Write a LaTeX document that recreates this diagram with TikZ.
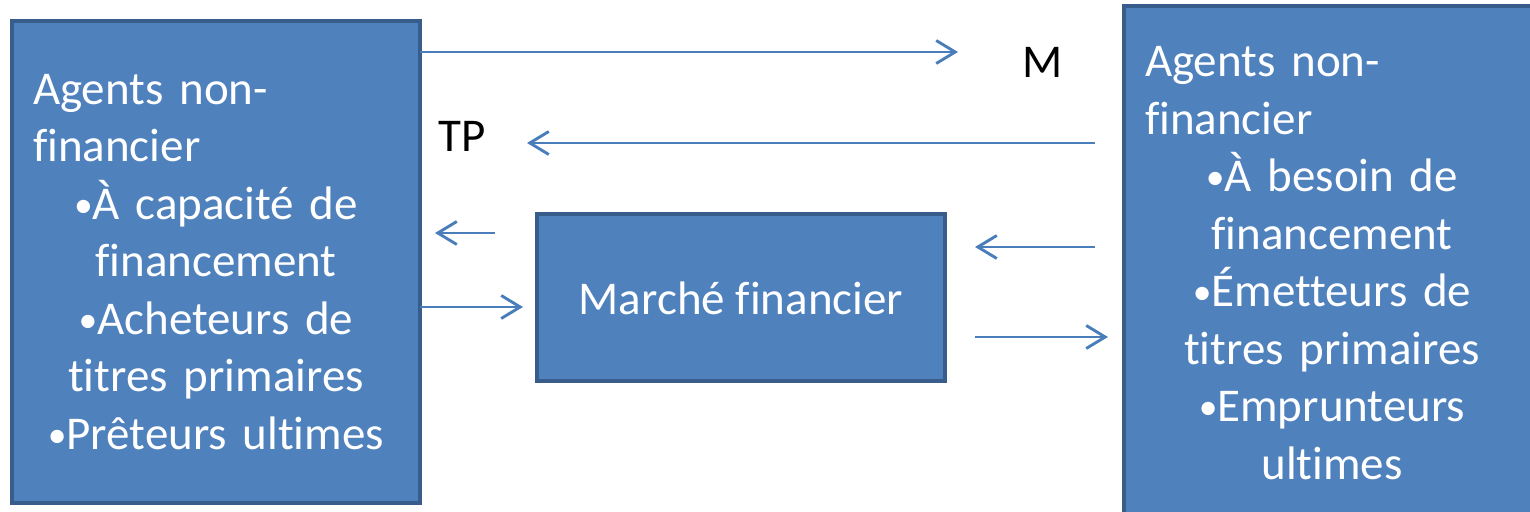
\documentclass[tikz,border=0pt]{standalone}
\usepackage{fontspec}
\setmainfont{Carlito}[Ligatures=NoCommon]
\usepackage{tikz}
\usetikzlibrary{positioning}
\usetikzlibrary{arrows.meta}
\usepackage{xcolor}
\definecolor{boxfill}{HTML}{4F81BD}
\definecolor{boxline}{HTML}{385D8A}
\definecolor{flowline}{HTML}{4A7EBB}
\newcommand{\blt}{\raisebox{0.05em}{\scalebox{0.8}{•}}}

\begin{document}
\begin{tikzpicture}[x=0.5pt, y=-0.5pt, ->, >={Straight Barb[length=9.5pt, width=11.5pt]},
    agent/.style={draw=boxline, fill=boxfill, line width=2pt, text=white, inner sep=0pt,
        align=center, font=\fontsize{23.5}{28.75}\selectfont},
    flow/.style={draw=flowline, line width=1.45pt},
    lbl/.style={inner sep=0pt, anchor=base, font=\fontsize{23.5}{28.75}\selectfont}]
    \clip (0,0) rectangle (1530,512);
    \node[agent, minimum width=204pt, minimum height=241pt, text width=183pt] (lender) at (216,262)
        {\makebox[\linewidth][l]{Agents non-}\\ \makebox[\linewidth][l]{financier}\\
         \blt À capacité de\\ financement\\ \blt Acheteurs de\\ titres primaires\\ \blt Prêteurs ultimes};
    \node[agent, minimum width=208pt, minimum height=257pt, text width=187pt] (borrower) at (1332,263)
        {\makebox[\linewidth][l]{Agents non-}\\ \makebox[\linewidth][l]{financier}\\
         \blt À besoin de\\ financement\\ \blt Émetteurs de\\ titres primaires\\ \blt Emprunteurs\\ ultimes};
    \node[agent, minimum width=204pt, minimum height=83.5pt] (market) at (741,298) {Marché financier};
    \node[lbl] (m) at (1043,78) {M};
    \node[lbl] (tp) at (462,152) {TP};
    \coordinate (m0) at (420,52);
    \coordinate (m1) at (958,52);
    \coordinate (tp0) at (1095,143);
    \coordinate (tp1) at (527,143);
    \coordinate (ml0) at (495,233);
    \coordinate (ml1) at (435,233);
    \coordinate (lm0) at (420,307);
    \coordinate (lm1) at (523,307);
    \coordinate (bm0) at (1095,247);
    \coordinate (bm1) at (975,247);
    \coordinate (mb0) at (975,337);
    \coordinate (mb1) at (1108,337);
    \draw[flow] (m0) -- (m1);
    \draw[flow] (tp0) -- (tp1);
    \draw[flow] (ml0) -- (ml1);
    \draw[flow] (lm0) -- (lm1);
    \draw[flow] (bm0) -- (bm1);
    \draw[flow] (mb0) -- (mb1);
\end{tikzpicture}
\end{document}
